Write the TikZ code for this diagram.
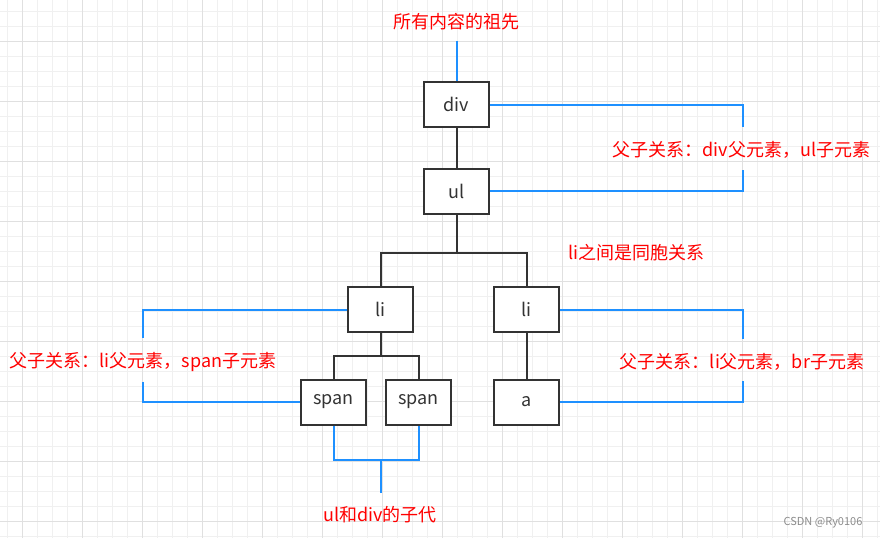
\documentclass[tikz,border=0pt]{standalone}
\usepackage{fontspec}
\setmainfont{Noto Sans CJK SC}
\definecolor{gridminor}{RGB}{240,240,240}
\definecolor{gridmajor}{RGB}{224,224,224}
\definecolor{treecol}{RGB}{51,51,51}
\definecolor{linkblue}{RGB}{30,144,255}
\definecolor{labred}{RGB}{255,0,0}
\definecolor{wmgray}{RGB}{140,140,140}
\tikzset{
  elem/.style={draw=treecol, line width=2pt, fill=white, minimum width=65pt, minimum height=45pt, inner sep=0pt, text=treecol, font=\fontsize{18pt}{20pt}\selectfont},
  tree/.style={draw=treecol, line width=2pt},
  link/.style={draw=linkblue, line width=2pt},
  lab/.style={inner sep=0pt, text=labred, font=\fontsize{18pt}{20pt}\selectfont},
}
\begin{document}
\begin{tikzpicture}[x=1pt,y=-1pt]
\useasboundingbox (0,0) rectangle (880,538);
\fill[white] (0,0) rectangle (880,538);
% grid
\foreach \i in {0,...,58} {
  \draw[gridminor, line width=1pt] ({7.3+15*\i},0) -- ({7.3+15*\i},538);
}
\foreach \j in {0,...,35} {
  \draw[gridminor, line width=1pt] (0,{11.3+15*\j}) -- (880,{11.3+15*\j});
}
\foreach \i in {0,...,14} {
  \draw[gridmajor, line width=1pt] ({22.3+60*\i},0) -- ({22.3+60*\i},538);
}
\foreach \j in {0,...,8} {
  \draw[gridmajor, line width=1pt] (0,{41.3+60*\j}) -- (880,{41.3+60*\j});
}
% nodes
\node[elem] (div) at (456.5,104.5) {div};
\node[elem] (ul) at (456.5,191.3) {ul};
\node[elem] (li1) at (380.5,309.5) {li};
\node[elem] (li2) at (526.5,309.5) {li};
\node[elem] (s1) at (333.5,402) {span};
\node[elem] (s2) at (418.7,402) {span};
\node[elem] (a) at (526.5,402) {a};
% labels
\node[lab] (title) at (456.5,21.7) {所有内容的祖先};
\node[lab] (lab1) at (741.5,150) {父子关系：div父元素，ul子元素};
\node[lab] (lab2) at (636.5,253) {li之间是同胞关系};
\node[lab] (lab3) at (143,361.7) {父子关系：li父元素，span子元素};
\node[lab] (lab4) at (742,361.7) {父子关系：li父元素，br子元素};
\node[lab] (lab5) at (380,515) {ul和div的子代};
\node[inner sep=0pt, text=wmgray, font=\fontsize{11pt}{12pt}\selectfont] (wm) at (823,522.7) {CSDN @Ry0106};
% coordinates
\coordinate (b1) at (456.5,253);
\coordinate (b2) at (380.5,356.3);
\coordinate (b3) at (380.5,460);
\coordinate (b4) at (380.5,493.3);
\coordinate (top) at (456.5,41.3);
\coordinate (r1) at (742.5,127.3);
\coordinate (r2) at (742.5,170);
\coordinate (l1) at (143,338.3);
\coordinate (l2) at (143,381.7);
\coordinate (r3) at (742.5,339);
\coordinate (r4) at (742.5,381);
% tree connectors
\draw[tree] (div) -- (ul);
\draw[tree] (ul.south) -- (b1);
\draw[tree] (li1.north) |- (b1) -| (li2.north);
\draw[tree] (li1.south) -- (b2);
\draw[tree] (s1.north) |- (b2) -| (s2.north);
\draw[tree] (li2) -- (a);
% blue links
\draw[link] (top) -- (div.north);
\draw[link] (div.east) -| (r1);
\draw[link] (r2) |- (ul.east);
\draw[link] (li1.west) -| (l1);
\draw[link] (l2) |- (s1.west);
\draw[link] (li2.east) -| (r3);
\draw[link] (r4) |- (a.east);
\draw[link] (s1.south) |- (b3) -| (s2.south);
\draw[link] (b3) -- (b4);
\end{tikzpicture}
\end{document}
